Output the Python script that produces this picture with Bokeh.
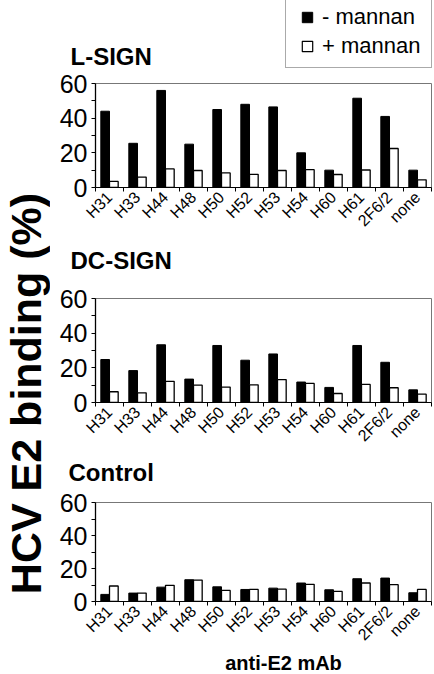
import numpy as np
from math import pi
from bokeh.plotting import figure
from bokeh.models import (ColumnDataSource, Range1d, FixedTicker, Legend,
                          LegendItem, Label)
from bokeh.layouts import row, column
from bokeh.transform import dodge
from bokeh.embed import file_html
from bokeh.resources import INLINE

# ---------------- data ----------------
categories = ["H31", "H33", "H44", "H48", "H50", "H52", "H53", "H54",
              "H60", "H61", "2F6/2", "none"]
lsign_minus = [44, 25.5, 56, 25, 45, 48, 46.5, 20, 10, 51.5, 41, 10]
lsign_plus = [3.5, 6, 10.7, 9.8, 8.4, 7.6, 9.8, 10.3, 7.5, 10.1, 22.5, 4.4]
dcsign_minus = [24.8, 18.4, 33.3, 13.5, 32.9, 24.4, 28, 11.8, 8.7, 32.9, 23.2, 7.3]
dcsign_plus = [6.2, 5.6, 12.2, 10, 8.9, 10.2, 13.2, 11, 5.2, 10.4, 8.5, 4.8]
control_minus = [4.3, 5.1, 8.7, 13.2, 8.9, 7.3, 8.1, 11.2, 7.1, 13.8, 14.2, 5.3]
control_plus = [9.4, 5.1, 9.8, 13, 6.7, 7.3, 7.5, 10.4, 6.1, 11.2, 10.2, 7.3]
panel_titles = ["L-SIGN", "DC-SIGN", "Control"]
y_ticks = [0, 20, 40, 60]
y_minor_ticks = [10, 30, 50]
series_labels = ["- mannan", "+ mannan"]
y_title = "HCV E2 binding (%)"
x_title = "anti-E2 mAb"

FONT = "Liberation Sans"
PANEL_W = 384


def blank(width, height):
    """A plain canvas (no axes) used for free-standing texts."""
    b = figure(width=width, height=height, x_axis_type=None, y_axis_type=None,
               toolbar_location=None, output_backend="svg", min_border=0,
               title=None)
    b.outline_line_color = None
    b.background_fill_color = "white"
    b.border_fill_color = "white"
    return b


def text_label(fig, text, x, y, size, align="left", baseline="alphabetic",
               angle=0.0):
    fig.add_layout(Label(x=x, y=y, x_units="screen", y_units="screen",
                         text=text, angle=angle, text_align=align,
                         text_baseline=baseline, text_font=FONT,
                         text_font_size=size, text_font_style="bold",
                         text_color="black"))


def make_panel(minus, plus, height, top, bottom, left):
    idx = list(range(len(categories)))
    src = ColumnDataSource(dict(x=idx, minus=minus, plus=plus))
    p = figure(width=PANEL_W, height=height, title=None,
               x_range=Range1d(-0.5, len(categories) - 0.5),
               y_range=Range1d(y_ticks[0], y_ticks[-1]),
               toolbar_location=None, output_backend="svg",
               min_border_left=left, min_border_right=3,
               min_border_top=top, min_border_bottom=bottom)
    p.vbar(x=dodge("x", -0.155), top="minus", width=0.31, bottom=0,
           source=src, fill_color="black", line_color="black", line_width=1)
    p.vbar(x=dodge("x", 0.155), top="plus", width=0.31, bottom=0,
           source=src, fill_color="white", line_color="black", line_width=1.3)

    p.xgrid.visible = False
    p.ygrid.visible = False
    p.outline_line_color = "#777777"
    p.outline_line_width = 1
    p.background_fill_color = "white"
    p.border_fill_color = "white"

    xa = p.xaxis[0]
    xa.ticker = FixedTicker(ticks=idx,
                            minor_ticks=list(np.arange(len(categories) + 1) - 0.5))
    xa.major_label_overrides = {i: c for i, c in enumerate(categories)}
    xa.major_label_orientation = pi / 4
    xa.major_tick_out = 0
    xa.major_tick_in = 0
    xa.minor_tick_out = 4
    xa.minor_tick_in = 0
    xa.major_label_standoff = 3
    xa.major_label_text_font = FONT
    xa.major_label_text_font_size = "16px"
    xa.major_label_text_color = "black"
    xa.axis_line_color = "black"
    xa.axis_line_width = 1.2

    ya = p.yaxis[0]
    ya.ticker = FixedTicker(ticks=y_ticks, minor_ticks=y_minor_ticks)
    ya.major_tick_out = 4
    ya.major_tick_in = 0
    ya.minor_tick_out = 4
    ya.minor_tick_in = 0
    ya.major_label_standoff = 4
    ya.major_label_text_font = FONT
    ya.major_label_text_font_size = "25px"
    ya.major_label_text_color = "black"
    ya.axis_line_color = "black"
    ya.axis_line_width = 1.3
    return p


# header strip: first panel title + legend
t_top = blank(PANEL_W, 69)
text_label(t_top, panel_titles[0], 20, 13, "24px")
key_src = ColumnDataSource(dict(x=[np.nan], y=[np.nan]))
r_minus = t_top.scatter(x="x", y="y", source=key_src, marker="square", size=10,
                        fill_color="black", line_color="black")
r_plus = t_top.scatter(x="x", y="y", source=key_src, marker="square", size=10,
                       fill_color="white", line_color="black", line_width=1.2)
legend = Legend(items=[LegendItem(label=series_labels[0], renderers=[r_minus]),
                       LegendItem(label=series_labels[1], renderers=[r_plus])],
                location=(235, 1), glyph_width=26, glyph_height=26,
                label_standoff=2, label_width=101, padding=8, spacing=3,
                border_line_color="#555555", border_line_width=1,
                background_fill_color="white", background_fill_alpha=1,
                label_text_font=FONT, label_text_font_size="22px",
                label_text_color="black")
t_top.add_layout(legend)

p1 = make_panel(lsign_minus, lsign_plus, 170, 14, 52, 45)

t2 = blank(PANEL_W, 45)
text_label(t2, panel_titles[1], 20, 24, "24px")

p2 = make_panel(dcsign_minus, dcsign_plus, 170, 14, 52, 42)

t3 = blank(PANEL_W, 34)
text_label(t3, panel_titles[2], 18, 16, "24px")

p3 = make_panel(control_minus, control_plus, 164, 14, 49, 44)

t_bot = blank(PANEL_W, 22)
text_label(t_bot, x_title, 233, 12, "20px", align="center")

# left strip with the shared y-axis title
p0 = blank(50, 674)
text_label(p0, y_title, 25, 281, "43px", align="center", baseline="middle",
           angle=pi / 2)

layout = row(p0, column(row(t_top), p1, row(t2), p2, row(t3), p3, row(t_bot)))
open("out.html", "w").write(file_html(layout, INLINE))
